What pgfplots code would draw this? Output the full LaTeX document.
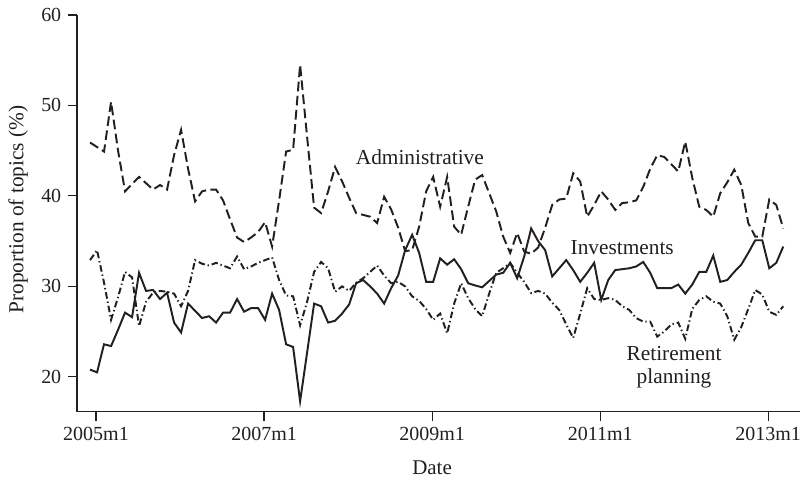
\documentclass[border=0pt]{standalone}
\usepackage{fontspec}
\setmainfont{Liberation Serif}
\usepackage{pgfplots}
\usepackage{pgfplotstable}
\pgfplotsset{compat=1.18}
\definecolor{ink}{HTML}{231F20}

% month index k (0 = first month), shares in percent
\pgfplotstableread{
k inv adm ret
0 20.8 45.9 32.9
1 20.5 45.4 34.0
2 23.6 44.9 30.4
3 23.4 50.4 26.3
4 25.2 45.0 28.8
5 27.1 40.5 31.6
6 26.6 41.3 31.0
7 31.5 42.1 25.6
8 29.5 41.4 28.3
9 29.6 40.7 29.3
10 28.6 41.2 29.5
11 29.3 40.7 29.4
12 26.0 44.5 29.2
13 24.9 47.3 27.8
14 28.1 43.0 29.5
15 27.3 39.4 32.9
16 26.5 40.5 32.5
17 26.7 40.7 32.3
18 26.0 40.7 32.6
19 27.1 39.5 32.3
20 27.1 37.4 32.0
21 28.6 35.4 33.3
22 27.2 34.9 31.9
23 27.6 35.4 32.2
24 27.6 36.0 32.6
25 26.3 37.1 32.9
26 29.2 34.4 33.2
27 27.4 39.5 30.7
28 23.6 44.9 29.0
29 23.3 45.1 28.9
30 17.3 54.5 25.7
31 22.7 46.5 28.3
32 28.1 38.7 31.6
33 27.8 38.1 32.7
34 26.0 40.5 32.0
35 26.2 43.2 29.4
36 27.0 41.6 30.0
37 28.0 39.8 29.5
38 30.35 38.1 30.4
39 30.7 37.9 30.9
40 30.0 37.7 31.6
41 29.2 37.0 32.3
42 28.1 39.9 31.2
43 29.8 38.5 30.35
44 31.2 36.5 30.5
45 34.0 33.9 30.0
46 35.7 34.0 28.9
47 33.7 36.6 28.4
48 30.5 40.5 27.5
49 30.5 42.1 26.3
50 33.1 38.8 27.0
51 32.4 42.1 24.8
52 33.0 36.6 28.1
53 31.9 35.7 30.35
54 30.35 38.8 28.7
55 30.1 41.8 27.5
56 29.9 42.3 26.7
57 30.6 40.3 29.2
58 31.3 38.3 31.5
59 31.5 35.5 32.0
60 32.6 33.7 32.6
61 30.9 35.9 31.5
62 33.3 33.85 30.5
63 36.4 33.6 29.25
64 35.0 34.3 29.5
65 34.0 36.5 29.2
66 31.1 39.0 28.2
67 32.0 39.6 27.4
68 32.9 39.7 25.8
69 31.8 42.5 24.3
70 30.5 41.6 27.0
71 31.5 37.7 29.8
72 32.6 39.0 28.6
73 28.5 40.5 28.5
74 30.7 39.6 28.7
75 31.8 38.45 28.5
76 31.9 39.2 27.8
77 32.0 39.3 27.4
78 32.2 39.5 26.5
79 32.7 41.0 26.1
80 31.5 43.0 26.1
81 29.8 44.5 24.45
82 29.8 44.3 25.0
83 29.8 43.5 25.8
84 30.2 42.7 26.0
85 29.2 46.0 24.2
86 30.2 42.0 27.5
87 31.6 38.8 28.5
88 31.6 38.45 28.9
89 33.4 37.7 28.3
90 30.5 40.3 28.1
91 30.7 41.5 26.7
92 31.6 42.9 24.1
93 32.4 41.2 25.5
94 33.7 37.0 27.5
95 35.1 35.5 29.6
96 35.1 35.5 29.1
97 32.0 39.6 27.2
98 32.6 39.0 26.85
99 34.4 36.4 27.8
}\topics

\begin{document}
\begin{tikzpicture}
\path[use as bounding box] (-39.7pt,-35.6pt) rectangle (377.3pt,212.3pt);
\begin{axis}[
  at={(0,0)}, anchor=south west,
  scale only axis, width=372.7pt, height=204.6pt,
  xmin=-1.86, xmax=101.4, ymin=16.13, ymax=60,
  axis x line=bottom, axis y line=left,
  axis line style={-, ink, line width=0.6pt},
  tick align=outside, major tick length=4.6pt,
  tick style={ink, line width=0.6pt},
  xtick={0.85,24.85,48.85,72.85,96.85},
  xticklabels={2005m1,2007m1,2009m1,2011m1,2013m1},
  ytick={20,30,40,50,60},
  /pgf/number format/assume math mode=true,
  ticklabel style={font=\fontsize{10.3}{12}\selectfont, text=ink},
  xlabel={Date}, ylabel={Proportion of topics (\%)},
  every axis x label/.style={at={(axis description cs:0.491,-0.141)}, anchor=center, font=\fontsize{10.8}{12}\selectfont, text=ink},
  every axis y label/.style={at={(axis description cs:-0.0816,0.51)}, anchor=center, rotate=90, font=\fontsize{11}{12}\selectfont, text=ink},
  every axis plot/.append style={ink, line width=1pt, line join=miter},
  clip=false,
]
\addplot[solid] table[x=k,y=inv]{\topics};
\addplot[dash pattern=on 5pt off 2.3pt] table[x=k,y=adm]{\topics};
\addplot[dash pattern=on 3.4pt off 1.5pt on 0.7pt off 1.5pt] table[x=k,y=ret]{\topics};
\node[text=ink, font=\fontsize{11}{12}\selectfont] at (axis cs:47.1,44.3) {Administrative};
\node[text=ink, font=\fontsize{11}{12}\selectfont] at (axis cs:76,34.3) {Investments};
\node[text=ink, font=\fontsize{11}{12}\selectfont, align=center] at (axis cs:83.4,21.1) {Retirement\\planning};
\end{axis}
\end{tikzpicture}
\end{document}
